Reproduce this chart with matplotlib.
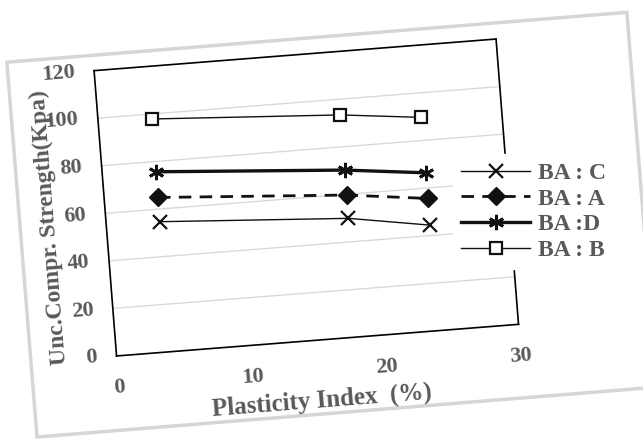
import numpy as np
import matplotlib
matplotlib.use("Agg")
import matplotlib.pyplot as plt
from matplotlib.transforms import Affine2D
from matplotlib.patches import Rectangle
import mpl_toolkits.axisartist.floating_axes as floating_axes
from mpl_toolkits.axisartist.grid_finder import FixedLocator, DictFormatter

# ---------------- data ----------------
plasticity_index = [4.0, 18.0, 24.0]
series_labels = ["BA : C", "BA : A", "BA :D", "BA : B"]
ba_c = [54.7, 49.9, 44.4]
ba_a = [64.9, 59.7, 55.6]
ba_d = [75.7, 70.2, 66.4]
ba_b = [97.9, 93.4, 89.7]
x_ticks = [0, 10, 20, 30]
y_ticks = [0, 20, 40, 60, 80, 100, 120]
x_label = "Plasticity Index  (%)"
y_label = "Unc.Compr. Strength(Kpa)"

plt.rcParams["font.family"] = ["Liberation Serif", "DejaVu Serif"]
plt.rcParams["font.weight"] = "bold"

W, H = 643, 440
TEXT = "#595959"
LINE = "#111111"
fig = plt.figure(figsize=(W / 100, H / 100), dpi=100)
fig.patch.set_facecolor("white")

# scanned-page frame (slightly rotated sheet)
page = Rectangle((0.37, 0.03), 6.22, 3.76, angle=4.6, transform=fig.dpi_scale_trans,
                 facecolor="white", edgecolor="#d6d6d6", linewidth=2.5, zorder=-5)
fig.patches.append(page)

# rotated plotting frame
angle = 4.5
sx = 403.2 / 30.0
sy = 286.2 / 120.0
tr = Affine2D().scale(sx, sy).rotate_deg(angle)
grid_helper = floating_axes.GridHelperCurveLinear(
    tr, extremes=(0, 30, 0, 120),
    grid_locator1=FixedLocator(x_ticks),
    grid_locator2=FixedLocator(y_ticks),
    tick_formatter1=DictFormatter({v: str(v) for v in x_ticks}),
    tick_formatter2=DictFormatter({v: str(v) for v in y_ticks}))

corners = tr.transform([(0, 0), (30, 0), (0, 120), (30, 120)])
bw = (corners[:, 0].max() - corners[:, 0].min()) * 1.02
bh = (corners[:, 1].max() - corners[:, 1].min()) * 1.02
cx, cy = 306.3, H - 197.5
ax = fig.add_axes([(cx - bw / 2) / W, (cy - bh / 2) / H, bw / W, bh / H],
                  axes_class=floating_axes.FloatingAxes, grid_helper=grid_helper)
ax.set_aspect("equal")
ax.grid(True, axis="y", color="#d9d9d9", linewidth=1.0)

for side in ["left", "right", "top", "bottom"]:
    a = ax.axis[side]
    a.line.set_linewidth(1.2)
    a.line.set_color("#000000")
    a.major_ticks.set_visible(False)
    a.minor_ticks.set_visible(False)
    a.major_ticklabels.set_color(TEXT)
    a.major_ticklabels.set_fontsize(16)
    a.major_ticklabels.set_fontweight("bold")

ax.axis["left"].major_ticklabels.set_pad(14)
ax.axis["bottom"].major_ticklabels.set_pad(16.5)

ax.axis["bottom"].label.set_text(x_label)
ax.axis["left"].label.set_text(y_label)
for side, fs in [("left", 17), ("bottom", 18)]:
    lab = ax.axis[side].label
    lab.set_visible(True)
    lab.set_color(TEXT)
    lab.set_fontsize(fs)
    lab.set_fontweight("bold")
ax.axis["bottom"].label.set_pad(9)
ax.axis["left"].label.set_pad(-5)
# the scanned y title sits a little below the middle of the axis
ylab = ax.axis["left"].label
ylab.set_transform(ylab.get_transform() + Affine2D().translate(1.0, -10.0))

aux = ax.get_aux_axes(tr)
h_c, = aux.plot(plasticity_index, ba_c, color=LINE, linewidth=1.0, marker="x",
                markersize=9.5, markeredgewidth=1.6, label=series_labels[0])
h_a, = aux.plot(plasticity_index, ba_a, color=LINE, linewidth=2.0, dashes=(4.5, 3),
                marker="D", markersize=9, markerfacecolor=LINE, markeredgecolor=LINE,
                label=series_labels[1])
h_d, = aux.plot(plasticity_index, ba_d, color=LINE, linewidth=2.4, marker=(6, 2, 0),
                markersize=11, markeredgewidth=2.0, label=series_labels[2])
h_b, = aux.plot(plasticity_index, ba_b, color=LINE, linewidth=1.0, marker="s",
                markersize=8.5, markerfacecolor="white", markeredgecolor=LINE,
                markeredgewidth=1.6, label=series_labels[3])

leg = fig.legend([h_c, h_a, h_d, h_b], series_labels, loc="upper left",
                 bbox_to_anchor=(453 / W, 1 - 154 / H), frameon=True,
                 facecolor="white", edgecolor="white", framealpha=1.0,
                 borderpad=0.35, borderaxespad=0, handlelength=2.9,
                 handletextpad=0.34, labelspacing=0.18,
                 prop={"family": "Liberation Serif", "weight": "bold", "size": 17})
leg.set_zorder(10)
for t in leg.get_texts():
    t.set_color(TEXT)

fig.savefig("out.png", dpi=100, facecolor="white")
